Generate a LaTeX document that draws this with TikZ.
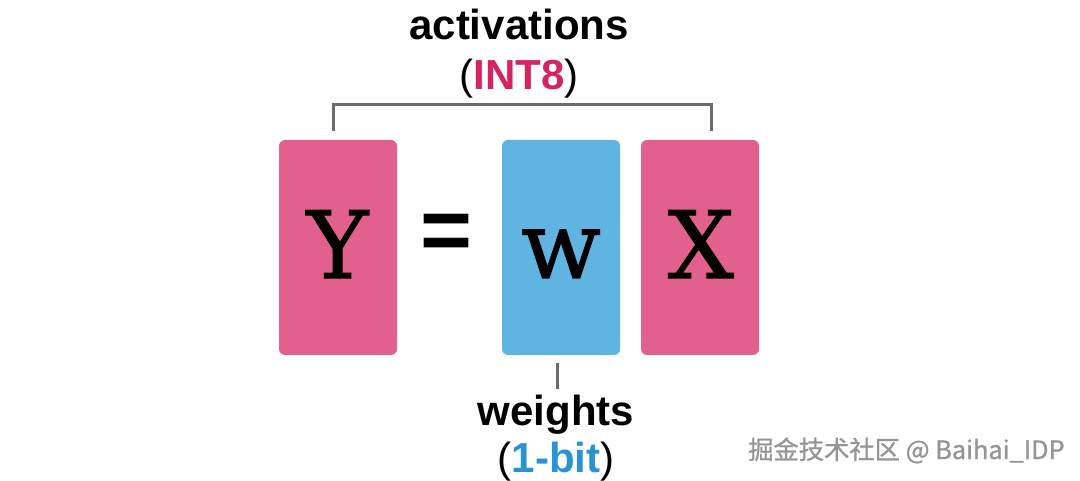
\documentclass[tikz,border=0pt]{standalone}
\usepackage{fontspec}
\setmainfont{Liberation Sans}
\newfontfamily\slabfont[FakeBold=1.1]{DejaVu Serif}
\newfontfamily\cjk[FakeBold=1]{Noto Sans CJK SC}
\definecolor{pinkbox}{HTML}{E2608D}
\definecolor{bluebox}{HTML}{5FB4E2}
\definecolor{intred}{HTML}{D6245E}
\definecolor{bitblue}{HTML}{2A93D5}
\definecolor{brackgray}{HTML}{6B6B6B}
\definecolor{wmgray}{HTML}{959595}
\begin{document}
\begin{tikzpicture}[x=1pt,y=-1pt,
  box/.style={rounded corners=6pt, minimum width=118pt, minimum height=215pt, inner sep=0pt},
  letter/.style={anchor=base, inner sep=0pt, font=\fontsize{93}{93}\slabfont},
  lbl/.style={anchor=base, inner sep=0pt, font=\fontsize{42}{42}\selectfont\bfseries},
  brack/.style={draw=brackgray, line width=3pt}]
\useasboundingbox (0,0) rectangle (1080,481);
% boxes
\node[box, fill=pinkbox] (Ybox) at (338,247.5) {};
\node[box, fill=bluebox] (Wbox) at (561,247.5) {};
\node[box, fill=pinkbox] (Xbox) at (700,247.5) {};
% letters
\node[letter] (Yt) at (337.5,278) {Y};
\node[letter] (Wt) at (561,278) {w};
\node[letter] (Xt) at (701,278) {X};
\node[inner sep=0pt, font=\fontsize{89}{89}\selectfont\bfseries] (eq) at (446,237.5) {=};
% top labels
\node[lbl] (act) at (519,40) {activations};
\node[lbl] (int) at (519,90) {{\mdseries(}\textcolor{intred}{INT8}{\mdseries)}};
\coordinate (bl) at (333,131);
\coordinate (br) at (711,131);
\draw[brack] (bl) -- (333,105) -- (711,105) -- (br);
% bottom labels
\coordinate (wtop) at (557,363);
\coordinate (wbot) at (557,389);
\draw[brack] (wtop) -- (wbot);
\node[lbl] (wts) at (556,425) {weights};
\node[lbl] (bit) at (556,472) {{\mdseries(}\textcolor{bitblue}{1-bit}{\mdseries)}};
% watermark
\node[anchor=base west, inner sep=0pt, text=wmgray, font=\fontsize{25.3}{25.3}\cjk] (wm) at (748,459) {掘金技术社区 @ Baihai\_IDP};
\end{tikzpicture}
\end{document}
